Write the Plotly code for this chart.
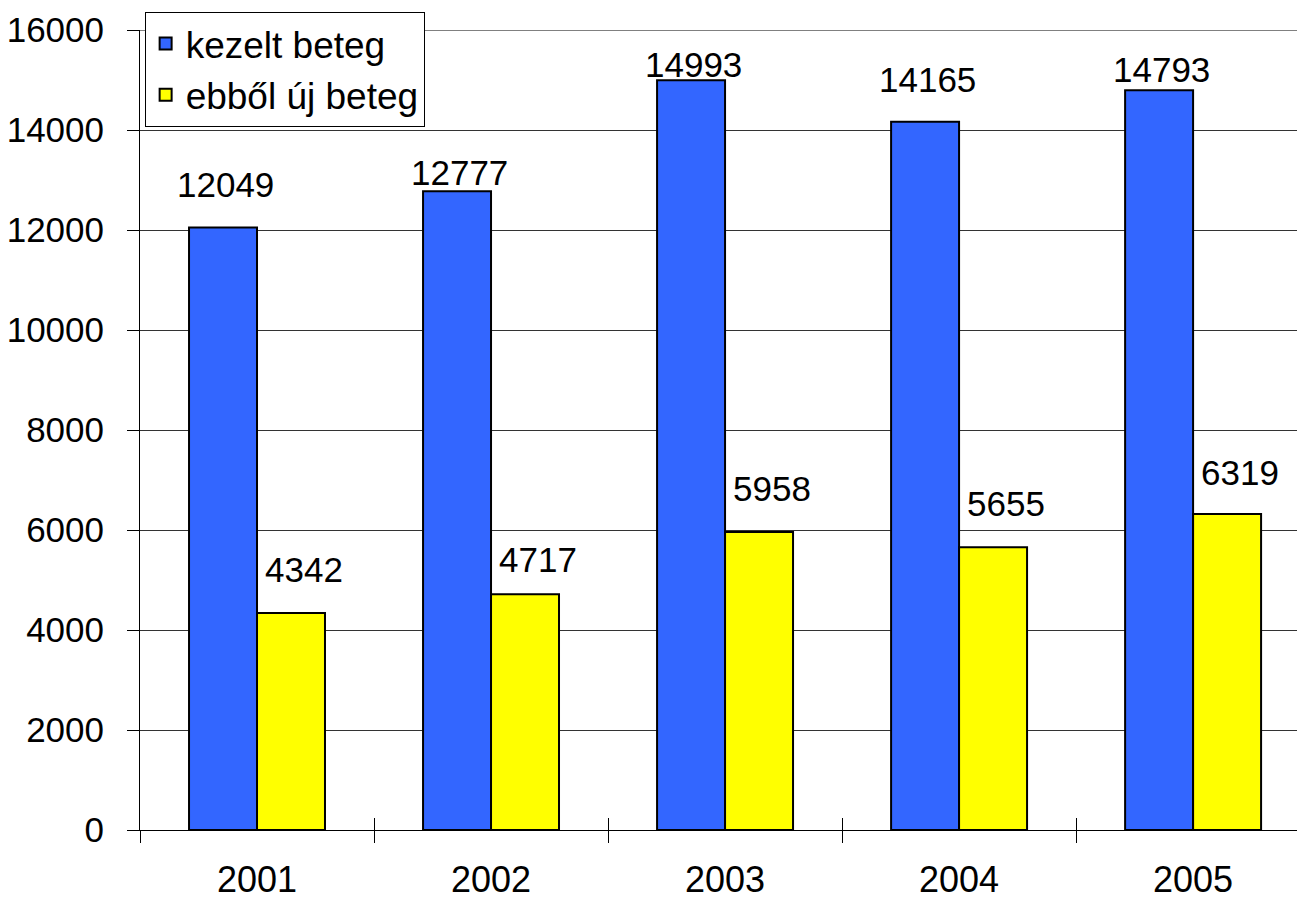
import plotly.graph_objects as go

years = ["2001", "2002", "2003", "2004", "2005"]
kezelt = [12049, 12777, 14993, 14165, 14793]
uj = [4342, 4717, 5958, 5655, 6319]
series_names = ["kezelt beteg", "ebből új beteg"]
y_ticks = [0, 2000, 4000, 6000, 8000, 10000, 12000, 14000, 16000]

# label placement (pixel offsets above bar tops, as in the original)
kezelt_label_lift = [43, 19, 16, 42, 21]
uj_label_lift = [43, 35, 44, 44, 42]

FONT = "Liberation Sans, Arial, sans-serif"

fig = go.Figure()
fig.add_trace(go.Bar(x=years, y=kezelt, name=series_names[0], legendgroup="a",
                     marker=dict(color="#3366FF", line=dict(color="black", width=2))))
fig.add_trace(go.Bar(x=years, y=uj, name=series_names[1], legendgroup="b",
                     marker=dict(color="#FFFF00", line=dict(color="black", width=2))))
# helper trace (draws nothing) so that the overlay axis gets the same categories
fig.add_trace(go.Scatter(x=years, y=[0] * len(years), xaxis="x2", mode="none",
                         showlegend=False, hoverinfo="skip"))

annotations = []
for i, v in enumerate(kezelt):
    annotations.append(dict(x=i, y=v, xref="x", yref="y", text=str(v), showarrow=False,
                            xshift=-32, yshift=kezelt_label_lift[i], yanchor="middle",
                            font=dict(family=FONT, size=35, color="black")))
for i, v in enumerate(uj):
    annotations.append(dict(x=i, y=v, xref="x", yref="y", text=str(v), showarrow=False,
                            xshift=47, yshift=uj_label_lift[i], yanchor="middle",
                            font=dict(family=FONT, size=35, color="black")))

fig.update_layout(
    width=1297, height=901,
    margin=dict(l=140, r=0, t=30, b=71),
    paper_bgcolor="white", plot_bgcolor="white",
    barmode="group", bargap=0.419, bargroupgap=0,
    font=dict(family=FONT, color="black"),
    showlegend=True,
    legend=dict(x=0.004, y=1.0225, xanchor="left", yanchor="top",
                bgcolor="white", bordercolor="black", borderwidth=1,
                font=dict(family=FONT, size=37, color="black"),
                tracegroupgap=16, traceorder="normal"),
    annotations=annotations,
    xaxis=dict(type="category", range=[-0.5, 4.444], tickson="boundaries",
               ticks="outside", ticklen=12, tickcolor="black", tickwidth=1,
               showline=True, linecolor="black", linewidth=1,
               showgrid=False, zeroline=False,
               tickfont=dict(family=FONT, size=36, color="black"),
               ticklabelstandoff=18),
    xaxis2=dict(type="category", overlaying="x", side="bottom", anchor="y",
                range=[-0.5, 4.444], tickson="boundaries",
                ticks="inside", ticklen=12, tickcolor="black", tickwidth=1,
                showticklabels=False, showline=False, showgrid=False, zeroline=False),
    yaxis=dict(range=[0, 16000], tickvals=y_ticks, ticktext=[str(t) for t in y_ticks],
               ticks="outside", ticklen=12, tickcolor="black", tickwidth=1,
               showline=True, linecolor="black", linewidth=1,
               showgrid=True, gridcolor="#333333", gridwidth=1,
               zeroline=False,
               tickfont=dict(family=FONT, size=35, color="black"),
               ticklabelstandoff=16),
    shapes=[dict(type="line", xref="paper", yref="y", x0=0, x1=1, y0=16000, y1=16000,
                 line=dict(color="#808080", width=2), layer="below")],
)

fig.write_html("out.html")
